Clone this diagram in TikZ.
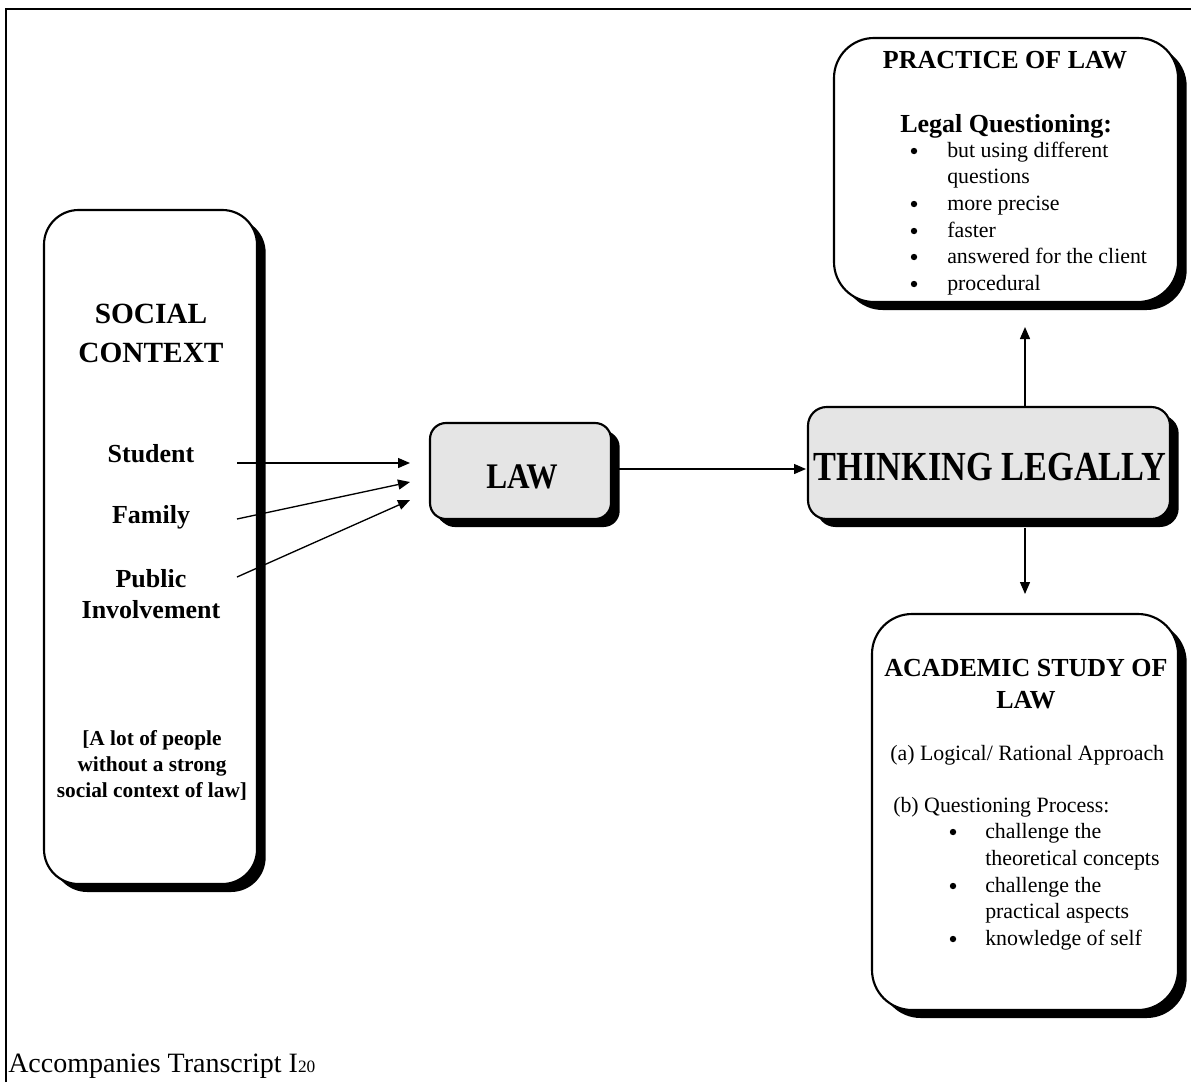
\documentclass[tikz,border=0pt]{standalone}
\usepackage{fontspec}
\setmainfont{Liberation Serif}
\usepackage{graphicx}
\usetikzlibrary{arrows.meta,shadows}

\newcommand{\fsz}[1]{\fontsize{#1}{#1}\selectfont}

\begin{document}
\begin{tikzpicture}[
  x=0.75pt, y=-0.75pt,
  panel/.style={draw, line width=1.6pt, fill=white, rectangle, inner sep=0pt,
    drop shadow={shadow xshift=6.5pt, shadow yshift=-6pt, opacity=1, fill=black}},
  greypanel/.style={panel, fill=gray!20},
  txt/.style={inner sep=0pt, anchor=base},
  txtl/.style={inner sep=0pt, anchor=base west},
  head/.style={txt, font=\bfseries\fsz{19.5}},
  item/.style={txtl, font=\fsz{16.4}},
  bul/.style={circle, fill=black, inner sep=0pt, minimum size=4.8pt},
  side/.style={txt, font=\bfseries\fsz{19.5}},
  note/.style={txt, font=\bfseries\fsz{16}},
  link/.style={line width=1pt, -{Triangle[length=9pt,width=7.5pt]}}
]
\useasboundingbox (0,0) rectangle (1191,1085);

% frame
\draw[line width=1.5pt] (6,1082) -- (6,9) -- (1191,9);

% boxes
\node[panel, rounded corners=26pt, minimum width=159.75pt, minimum height=505.5pt] (social) at (150.5,547) {};
\node[greypanel, rounded corners=12pt, minimum width=135.75pt, minimum height=72pt,
  drop shadow={shadow xshift=4.5pt, shadow yshift=-4.5pt, opacity=1, fill=black}] (law) at (520.5,471) {};
\node[greypanel, rounded corners=14pt, minimum width=271.5pt, minimum height=84pt] (tl) at (989,463) {};
\node[panel, rounded corners=30pt, minimum width=258pt, minimum height=198pt] (practice) at (1006,170) {};
\node[panel, rounded corners=30pt, minimum width=229.5pt, minimum height=297pt] (academic) at (1025,812) {};

% social context text
\node[txt, font=\bfseries\fsz{22}] (sc1) at (151,323) {SOCIAL};
\node[txt, font=\bfseries\fsz{22}] (sc2) at (151,362) {CONTEXT};
\node[side] (student) at (151,462) {Student};
\node[side] (family) at (151,523) {Family};
\node[side] (public1) at (151,587) {Public};
\node[side] (public2) at (151,618) {Involvement};
\node[note] (n1) at (152,745) {[A lot of people};
\node[note] (n2) at (152,771) {without a strong};
\node[note] (n3) at (152,797) {social context of law]};

% centre labels
\node[txt, font=\bfseries\fsz{27}] (lawt) at (522,488) {\scalebox{0.87}[1]{LAW}};
\node[txt, font=\bfseries\fsz{31}] (tlt) at (990,480) {\scalebox{0.83}[1]{THINKING LEGALLY}};

% practice of law
\node[head] (p0) at (1005,68) {PRACTICE OF LAW};
\node[txtl, font=\bfseries\fsz{19.5}] (p1) at (900,132) {Legal Questioning:};
\node[bul] (pb1) at (914,151) {};
\node[item] (pi1) at (947,157) {but using different};
\node[item] (pi1b) at (947,183) {questions};
\node[bul] (pb2) at (914,204) {};
\node[item] (pi2) at (947,210) {more precise};
\node[bul] (pb3) at (914,231) {};
\node[item] (pi3) at (947,237) {faster};
\node[bul] (pb4) at (914,257) {};
\node[item] (pi4) at (947,263) {answered for the client};
\node[bul] (pb5) at (914,284) {};
\node[item] (pi5) at (947,290) {procedural};

% academic study of law
\node[head] (a0) at (1026,676) {ACADEMIC STUDY OF};
\node[head] (a0b) at (1026,708) {LAW};
\node[item] (a1) at (890,760) {(a) Logical/ Rational Approach};
\node[item] (a2) at (893,812) {(b) Questioning Process:};
\node[bul] (ab1) at (953,832) {};
\node[item] (ai1) at (985,838) {challenge the};
\node[item] (ai1b) at (985,865) {theoretical concepts};
\node[bul] (ab2) at (953,886) {};
\node[item] (ai2) at (985,892) {challenge the};
\node[item] (ai2b) at (985,918) {practical aspects};
\node[bul] (ab3) at (953,939) {};
\node[item] (ai3) at (985,945) {knowledge of self};

% caption
\node[txtl, font=\fsz{21}] (cap) at (8,1072) {Accompanies Transcript I{\fsz{13}20}};

% connector end points
\coordinate (s0) at (237,463);
\coordinate (f0) at (237,519);
\coordinate (q0) at (237,577);
\coordinate (s1) at (410,463);
\coordinate (f1) at (410,482);
\coordinate (q1) at (410,500);
\coordinate (up0) at (1025,407);
\coordinate (up1) at (1025,327);
\coordinate (dn0) at (1025,528);
\coordinate (dn1) at (1025,594);
\coordinate (lawout) at (618,469);
\coordinate (tlin) at (806,469);

\draw[link] (s0) -- (s1);
\draw[link] (f0) -- (f1);
\draw[link] (q0) -- (q1);
\draw[link] (lawout) -- (tlin);
\draw[link] (up0) -- (up1);
\draw[link] (dn0) -- (dn1);
\end{tikzpicture}
\end{document}
